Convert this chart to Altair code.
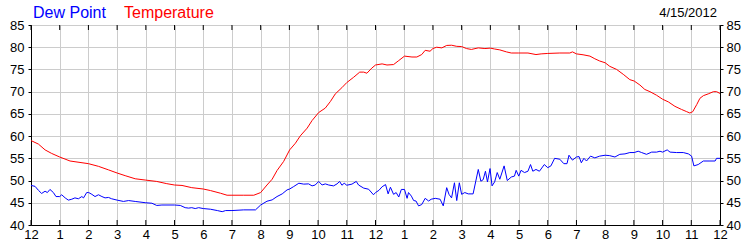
import altair as alt
import pandas as pd

# ---- data (hours after midnight, degrees F) ----
temp_hours = [0.0, 0.26, 0.49, 0.72, 1.0, 1.36, 2.0, 2.35, 2.70, 3.0, 3.28, 3.63, 4.0, 4.38, 4.73, 5.0,
              5.26, 5.6, 6.0, 6.25, 6.6, 6.83, 7.0, 7.41, 7.76, 8.0, 8.22, 8.4, 8.57, 8.8, 9.01, 9.21,
              9.38, 9.62, 9.79, 10.02, 10.25, 10.43, 10.6, 10.83, 11.0, 11.24, 11.45, 11.59, 11.7, 11.87,
              12.0, 12.23, 12.4, 12.63, 12.81, 13.01, 13.27, 13.44, 13.61, 13.73, 13.9, 14.0, 14.13,
              14.31, 14.48, 14.65, 14.83, 15.0, 15.17, 15.34, 15.58, 15.81, 16.0, 16.15, 16.33, 16.56,
              16.73, 16.99, 17.31, 17.59, 17.77, 18.0, 18.42, 18.77, 18.86, 19.0, 19.23, 19.47, 19.64,
              19.81, 20.0, 20.16, 20.4, 20.63, 20.86, 21.01, 21.21, 21.38, 21.56, 21.79, 22.0, 22.2,
              22.43, 22.66, 22.84, 22.95, 23.05, 23.19, 23.3, 23.42, 23.59, 23.77, 23.88, 24.0]
temp_values = [59.0, 58.2, 56.9, 56.1, 55.3, 54.4, 53.8, 53.2, 52.4, 51.7, 51.1, 50.4, 50.1, 49.8, 49.3, 49.0,
               48.9, 48.4, 48.1, 47.75, 47.15, 46.7, 46.7, 46.7, 46.7, 47.3, 49.0, 50.3, 52.25, 54.3, 56.9, 58.4,
               60.05, 61.8, 63.5, 65.3, 66.3, 67.8, 69.5, 70.9, 72.05, 73.25, 74.4, 74.4, 74.15, 75.3,
               76.0, 76.25, 76.0, 76.1, 77.0, 78.0, 77.8, 77.8, 78.35, 79.3, 79.1, 79.7, 80.0,
               79.85, 80.4, 80.45, 80.2, 80.15, 79.7, 79.5, 79.85, 79.7, 79.8, 79.6, 79.4, 78.95,
               78.7, 78.7, 78.7, 78.35, 78.5, 78.6, 78.7, 78.7, 78.95, 78.5, 78.3, 78.0, 77.4,
               76.9, 76.5, 75.7, 75.0, 73.9, 72.7, 72.4, 71.5, 70.5, 70.0, 69.2, 68.3, 67.7,
               66.7, 66.0, 65.5, 65.2, 65.5, 67.1, 68.5, 69.1, 69.5, 70.0, 70.0, 69.6]

dew_hours = [0.0, 0.14, 0.26, 0.37, 0.49, 0.57, 0.66, 0.78, 0.87, 1.0, 1.07, 1.19, 1.30, 1.42, 1.53, 1.65,
             1.77, 1.83, 1.94, 2.01, 2.12, 2.23, 2.35, 2.47, 2.58, 2.70, 2.81, 3.0, 3.22, 3.40, 3.63, 4.0,
             4.21, 4.38, 4.56, 5.0, 5.2, 5.37, 5.49, 5.6, 5.72, 5.84, 6.0, 6.25, 6.49, 6.66, 6.78, 7.0,
             7.41, 7.82, 8.0, 8.22, 8.4, 8.57, 8.75, 8.92, 9.01, 9.15, 9.33, 9.5, 9.67, 9.79, 9.9, 10.02,
             10.14, 10.25, 10.37, 10.54, 10.66, 10.75, 10.83, 10.91, 11.0, 11.18, 11.33, 11.41, 11.59,
             11.76, 11.93, 12.0, 12.12, 12.23, 12.35, 12.44, 12.52, 12.63, 12.72, 12.81, 12.9, 13.01,
             13.1, 13.15, 13.25, 13.33, 13.41, 13.5, 13.61, 13.73, 13.85, 13.94, 14.08, 14.25, 14.36,
             14.48, 14.56, 14.65, 14.75, 14.83, 14.92, 15.0, 15.11, 15.23, 15.4, 15.58, 15.67, 15.75,
             15.83, 15.9, 15.99, 16.06, 16.15, 16.24, 16.33, 16.48, 16.59, 16.73, 16.84, 16.9, 16.99,
             17.07, 17.19, 17.31, 17.4, 17.48, 17.59, 17.71, 17.88, 18.0, 18.11, 18.24, 18.42, 18.56,
             18.67, 18.74, 18.86, 19.0, 19.09, 19.17, 19.26, 19.35, 19.49, 19.64, 19.81, 20.0, 20.16,
             20.34, 20.51, 20.69, 20.86, 21.01, 21.15, 21.27, 21.44, 21.62, 21.79, 21.91, 22.0, 22.16,
             22.26, 22.49, 22.72, 22.9, 23.01, 23.09, 23.24, 23.42, 23.65, 23.83, 23.88, 24.0]
dew_values = [48.9, 48.7, 47.8, 47.1, 47.6, 47.3, 48.0, 47.3, 46.4, 46.4, 46.8, 46.1, 45.6, 45.8, 46.1, 45.9,
              46.4, 46.1, 47.3, 47.3, 46.9, 46.4, 46.8, 46.4, 46.1, 46.2, 45.9, 45.6, 45.3, 45.5, 45.3, 45.0,
              44.9, 44.4, 44.5, 44.5, 44.4, 43.9, 43.8, 43.9, 43.7, 43.9, 43.7, 43.55, 43.25, 43.0, 43.25, 43.25,
              43.4, 43.4, 44.5, 45.35, 45.65, 46.4, 47.0, 47.9, 48.1, 48.65, 49.4, 49.2, 49.25, 48.8, 49.0, 49.8,
              49.0, 49.25, 49.0, 48.8, 49.25, 49.8, 48.95, 49.4, 48.95, 49.2, 49.8, 49.0, 48.3,
              48.05, 46.8, 47.3, 47.8, 48.6, 49.1, 47.0, 48.5, 46.9, 47.3, 46.3, 48.0, 48.0,
              46.0, 47.3, 46.5, 45.5, 45.4, 44.3, 44.6, 46.0, 45.4, 45.8, 46.0, 45.8, 44.3,
              48.4, 46.9, 46.1, 49.5, 45.5, 49.5, 46.9, 47.3, 47.0, 47.0, 52.5, 49.85, 50.2,
              52.1, 49.7, 52.7, 48.8, 49.7, 51.8, 50.3, 53.3, 50.0, 50.8, 51.0, 52.3, 51.0,
              52.3, 51.8, 52.1, 53.6, 52.1, 52.5, 52.1, 53.6, 52.9, 53.3, 55.0, 54.8, 53.8,
              53.8, 55.7, 54.6, 55.3, 55.4, 54.0, 55.0, 54.4, 55.5, 55.1, 55.5, 55.7, 55.6,
              55.3, 55.9, 56.0, 56.3, 56.3, 56.6, 56.3, 55.9, 56.4, 56.4, 56.6, 56.4, 56.9,
              56.4, 56.3, 56.3, 56.0, 55.5, 53.3, 53.6, 54.4, 54.4, 54.4, 55.0, 55.0]

hour_ticks = list(range(25))
y_ticks = [40, 45, 50, 55, 60, 65, 70, 75, 80, 85]
legend_labels = ["Dew Point", "Temperature"]
date_label = "4/15/2012"

FONT = "Liberation Sans"

temp_df = pd.DataFrame({"hour": temp_hours, "temp": temp_values})
dew_df = pd.DataFrame({"hour": dew_hours, "dew": dew_values})
tick_df = pd.DataFrame({"hour": hour_ticks})

x_scale = alt.Scale(domain=[0, 24], nice=False, zero=False)
y_scale = alt.Scale(domain=[40, 85], nice=False, zero=False)
label_expr = "datum.value % 12 == 0 ? '12' : '' + (datum.value % 12)"

x_axis = alt.Axis(values=hour_ticks, labelExpr=label_expr, grid=True, gridColor="#cccccc",
                  ticks=False, domain=True, domainColor="black", title=None, labelPadding=3,
                  labelFontSize=13, labelColor="black", labelFlush=False, labelOverlap=False,
                  labelFont=FONT)


def xenc():
    return alt.X("hour:Q", scale=x_scale, axis=x_axis)


temp_line = alt.Chart(temp_df).mark_line(color="#ff0000", strokeWidth=1).encode(
    x=xenc(),
    y=alt.Y("temp:Q", scale=y_scale,
            axis=alt.Axis(orient="left", values=y_ticks, grid=True, gridColor="#cccccc",
                          tickSize=3, tickColor="black", domainColor="black", title=None,
                          labelPadding=4, labelFontSize=13, labelFlush=False, labelColor="black",
                          labelFont=FONT, labelOverlap=False)),
)

dew_line = alt.Chart(dew_df).mark_line(color="#0000ff", strokeWidth=1).encode(
    x=xenc(),
    y=alt.Y("dew:Q", scale=y_scale,
            axis=alt.Axis(orient="right", values=y_ticks, grid=False,
                          tickSize=3, tickColor="black", domainColor="black", title=None,
                          labelPadding=3, labelFontSize=13, labelFlush=False, labelColor="black",
                          labelFont=FONT, labelOverlap=False)),
)

top_ticks = alt.Chart(tick_df).mark_rule(color="black", strokeWidth=1).encode(
    x=xenc(), y=alt.value(0), y2=alt.value(5),
)
bottom_ticks = alt.Chart(tick_df).mark_rule(color="black", strokeWidth=1).encode(
    x=xenc(), y=alt.value(195), y2=alt.value(200),
)

dew_title = alt.Chart(pd.DataFrame({"t": [legend_labels[0]]})).mark_text(
    align="left", baseline="alphabetic", fontSize=16, font=FONT, color="#0000ff"
).encode(text="t:N", x=alt.value(2), y=alt.value(-7.5))

temp_title = alt.Chart(pd.DataFrame({"t": [legend_labels[1]]})).mark_text(
    align="left", baseline="alphabetic", fontSize=16, font=FONT, color="#ff0000"
).encode(text="t:N", x=alt.value(93), y=alt.value(-7.5))

date_text = alt.Chart(pd.DataFrame({"t": [date_label]})).mark_text(
    align="right", baseline="alphabetic", fontSize=13, font=FONT, color="black"
).encode(text="t:N", x=alt.value(686), y=alt.value(-8.3))

chart = alt.layer(
    temp_line, dew_line, top_ticks, bottom_ticks, dew_title, temp_title, date_text
).resolve_scale(y="independent").properties(
    width=689, height=200,
    autosize=alt.AutoSizeParams(type="none"),
    padding={"left": 31, "top": 25, "right": 30, "bottom": 25},
    background="white",
).configure_view(stroke="black", strokeWidth=1)

chart.save("out.html", embed_options={"renderer": "svg", "actions": False})
